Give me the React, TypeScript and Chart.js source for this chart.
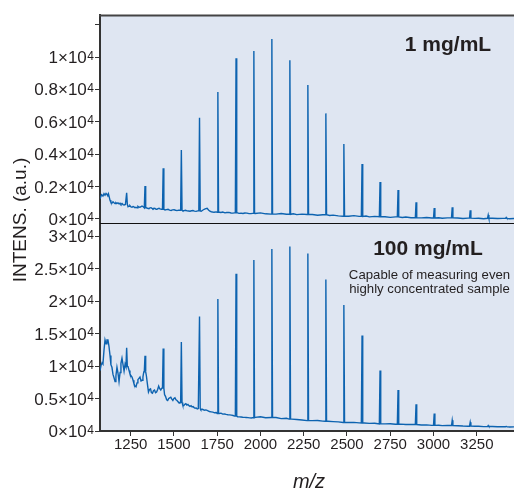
import React, { useEffect, useRef } from 'react';
import { Chart, registerables } from 'chart.js';

Chart.register(...registerables);

const FONT = '"Liberation Sans", Arial, Helvetica, sans-serif';
const TEXT = '#231f20';
const LINE = '#0d63b0';
const BG = '#dfe6f2';

// Peak positions (m/z) shared by both spectra
const peakMz = [1227, 1333, 1438, 1543, 1648, 1754, 1859, 1962, 2066, 2170, 2274, 2378, 2482, 2587, 2691, 2795, 2899, 3004, 3108, 3212, 3316, 3420];
// Peak top intensities
const peakTop1 = [1620, 2040, 3130, 4260, 6250, 7840, 9920, 10370, 11110, 9800, 8270, 6520, 4630, 3400, 2280, 1790, 1030, 680, 720, 540, 250, 100];
const peakTop2 = [12800, 11570, 12700, 13700, 17600, 20300, 24200, 26300, 28000, 28400, 27300, 23300, 19400, 14700, 9300, 6300, 4100, 2700, 1650, 1340, 850, 700];

// Baseline (1 mg/mL)
const baseMz1 = [1073, 1082, 1090, 1096, 1102, 1108, 1113, 1118, 1122, 1131, 1136, 1142, 1148, 1154, 1160, 1165, 1171, 1177, 1183, 1189, 1194, 1200, 1206, 1212, 1220,
  1235, 1241, 1246, 1252, 1258, 1264, 1269, 1275, 1281, 1287, 1292, 1298, 1304, 1310, 1316, 1324,
  1341, 1347, 1356, 1362, 1368, 1374, 1379, 1385, 1391, 1397, 1402, 1408, 1414, 1420, 1428,
  1449, 1457, 1466, 1475, 1484, 1492, 1501, 1510, 1518, 1527, 1535,
  1552, 1558, 1567, 1576, 1585, 1593, 1602, 1610, 1619, 1628, 1638,
  1658, 1666, 1675, 1684, 1692, 1700, 1708, 1716, 1724, 1732, 1744,
  1763, 1772, 1782, 1795, 1805, 1818, 1830, 1841, 1851,
  1868, 1876, 1888, 1899, 1910, 1922, 1934, 1945, 1955,
  1970, 2000, 2030, 2090, 2120, 2150, 2190, 2210, 2240, 2300, 2330, 2360, 2400, 2420, 2450, 2510, 2540, 2570, 2610, 2630, 2660, 2720, 2750, 2780, 2820, 2840, 2870, 2930, 2960, 2990, 3030, 3050, 3080, 3140, 3170, 3200, 3240, 3260, 3290, 3340, 3370, 3400, 3440, 3465];
const baseVal1 = [1250, 1500, 1420, 1560, 1470, 1580, 1520, 1430, 1550, 1150, 1020, 980, 1060, 1000, 950, 1010, 960, 1000, 930, 970, 900, 960, 890, 870, 900,
  760, 790, 820, 740, 720, 770, 760, 700, 720, 690, 780, 740, 720, 760, 800, 740,
  690, 660, 640, 690, 700, 650, 620, 660, 650, 600, 610, 640, 660, 620, 600,
  560, 580, 600, 550, 530, 560, 570, 540, 520, 550, 540,
  500, 520, 540, 500, 490, 480, 510, 520, 490, 470, 500,
  480, 540, 600, 640, 660, 560, 480, 450, 430, 420, 440,
  420, 400, 430, 380, 400, 410, 370, 360, 380,
  380, 350, 360, 340, 370, 360, 330, 330, 350,
  340, 380, 320, 300, 340, 290, 320, 270, 300, 280, 230, 260, 220, 240, 190, 170, 210, 160, 180, 130, 160, 140, 100, 130, 90, 120, 80, 70, 90, 60, 80, 50, 70, 60, 35, 55, 40, 50, 20, 45, 30, 40, 15, 35];

// Baseline (100 mg/mL)
const baseMz2 = [1073, 1079, 1085, 1090, 1096, 1102, 1108, 1113, 1119, 1125, 1131, 1136, 1142, 1148, 1154, 1160, 1165, 1171, 1177, 1183, 1189, 1194, 1200, 1206, 1212, 1218,
  1235, 1241, 1246, 1252, 1258, 1264, 1269, 1275, 1281, 1287, 1292, 1298, 1304, 1310, 1316, 1321, 1326,
  1341, 1347, 1353, 1359, 1365, 1370, 1376, 1382, 1388, 1394, 1400, 1406, 1412, 1418, 1424, 1430,
  1446, 1452, 1458, 1464, 1470, 1476, 1482, 1488, 1494, 1500, 1506, 1512, 1518, 1524, 1530, 1535,
  1551, 1557, 1563, 1569, 1575, 1581, 1587, 1593, 1599, 1605, 1611, 1617, 1623, 1629, 1635, 1641,
  1655, 1665, 1675, 1685, 1695, 1705, 1715, 1725, 1735, 1745,
  1762, 1772, 1782, 1792, 1802, 1812, 1822, 1832, 1842, 1851,
  1868, 1878, 1888, 1898, 1908, 1918, 1928, 1938, 1948, 1955,
  1970, 2000, 2030, 2090, 2120, 2150, 2180, 2210, 2240, 2300, 2330, 2360, 2390, 2420, 2450, 2510, 2540, 2570, 2600, 2630, 2660, 2720, 2750, 2780, 2810, 2840, 2870, 2930, 2960, 2990, 3030, 3050, 3080, 3140, 3170, 3200, 3240, 3260, 3290, 3340, 3370, 3400, 3440, 3465];
const baseVal2 = [9300, 10100, 10500, 10300, 12400, 14000, 13400, 14000, 14000, 13000, 11600, 10200, 9800, 8700, 8200, 7600, 8500, 9800, 8900, 7600, 9000, 10400, 11200, 10200, 9200, 10300,
  9900, 9300, 8800, 8500, 8300, 7800, 7300, 6900, 6800, 7400, 7900, 8100, 8300, 7700, 7800, 8300, 9100,
  8500, 7200, 6000, 6400, 6500, 5900, 5800, 6200, 6300, 5900, 6000, 6400, 6900, 6500, 6300, 6600,
  5600, 5300, 4800, 4700, 5000, 5100, 5200, 4900, 4700, 5000, 5100, 4800, 4700, 4500, 4300, 4400,
  4000, 3900, 4100, 4200, 4000, 4100, 3900, 3800, 3900, 3700, 3750, 3600, 3500, 3550, 3400, 3450,
  3300, 3350, 3200, 3250, 3150, 3000, 2950, 2900, 2800, 2850,
  2700, 2750, 2600, 2620, 2550, 2500, 2480, 2450, 2380, 2300,
  2200, 2180, 2150, 2120, 2100, 2080, 2050, 2020, 2000, 2050,
  2100, 2200, 2050, 2080, 1900, 1950, 1820, 1780, 1700, 1600, 1620, 1520, 1500, 1450, 1400, 1300, 1320, 1250, 1230, 1180, 1200, 1100, 1120, 1040, 1060, 990, 1000, 920, 940, 870, 880, 830, 850, 800, 760, 740, 720, 730, 680, 690, 650, 660, 620, 630, 600];

const xTicks = [1250, 1500, 1750, 2000, 2250, 2500, 2750, 3000, 3250];
const yTicks1 = [0, 2000, 4000, 6000, 8000, 10000, 12000];
const yLabels1 = ['0', '0.2', '0.4', '0.6', '0.8', '1', ''];
const yTicks2 = [0, 5000, 10000, 15000, 20000, 25000, 30000];
const yLabels2 = ['0', '0.5', '1', '1.5', '2', '2.5', '3'];

function buildSeries(bMz: number[], bVal: number[], pMz: number[], pTop: number[]) {
  const pts: { x: number; y: number }[] = [];
  bMz.forEach((m, i) => {
    if (!pMz.some((p) => Math.abs(p - m) <= 5)) pts.push({ x: m, y: bVal[i] });
  });
  pMz.forEach((p, i) => {
    let j = 0;
    let best = Infinity;
    bMz.forEach((m, k) => {
      const d = Math.abs(m - p);
      if (d < best) { best = d; j = k; }
    });
    const b = bVal[j];
    pts.push({ x: p - 4, y: b }, { x: p, y: pTop[i] }, { x: p + 4, y: b });
  });
  pts.sort((a, b) => a.x - b.x);
  return pts;
}

function drawYLabels(ctx: CanvasRenderingContext2D, scale: any, vals: number[], labels: string[]) {
  vals.forEach((v, i) => {
    if (!labels[i]) return;
    const y = scale.getPixelForValue(v);
    const right = 94;
    ctx.textAlign = 'right';
    ctx.textBaseline = 'alphabetic';
    ctx.font = `12px ${FONT}`;
    const supW = ctx.measureText('4').width;
    ctx.fillText('4', right, y + 2.5);
    ctx.font = `17px ${FONT}`;
    ctx.fillText(labels[i] + '×10', right - supW - 0.5, y + 6);
  });
}

const decor = {
  id: 'decor',
  beforeDraw(chart: any) {
    const { ctx, chartArea: a } = chart;
    ctx.save();
    ctx.fillStyle = BG;
    ctx.fillRect(a.left, a.top, a.right - a.left, a.bottom - a.top);
    ctx.restore();
  },
  afterDraw(chart: any) {
    const { ctx, chartArea: a } = chart;
    const y1 = chart.scales.y1;
    const y2 = chart.scales.y2;
    ctx.save();
    // top frame line
    ctx.strokeStyle = '#444';
    ctx.lineWidth = 2;
    ctx.beginPath();
    ctx.moveTo(a.left - 1, a.top + 0.5);
    ctx.lineTo(a.right, a.top + 0.5);
    ctx.stroke();
    // divider between panels
    ctx.strokeStyle = '#111';
    ctx.lineWidth = 1;
    ctx.beginPath();
    ctx.moveTo(a.left, y1.bottom + 0.5);
    ctx.lineTo(a.right, y1.bottom + 0.5);
    ctx.stroke();

    ctx.fillStyle = TEXT;
    drawYLabels(ctx, y1, yTicks1, yLabels1);
    drawYLabels(ctx, y2, yTicks2, yLabels2);

    // y title
    ctx.save();
    ctx.translate(21, 220);
    ctx.rotate(-Math.PI / 2);
    ctx.font = `19px ${FONT}`;
    ctx.textAlign = 'center';
    ctx.textBaseline = 'middle';
    ctx.fillText('INTENS. (a.u.)', 0, 0);
    ctx.restore();

    // x title
    ctx.font = `italic 20px ${FONT}`;
    ctx.textAlign = 'center';
    ctx.textBaseline = 'alphabetic';
    ctx.fillText('m/z', (a.left + a.right) / 2 + 2, 488);

    // panel labels
    ctx.font = `bold 21px ${FONT}`;
    ctx.fillText('1 mg/mL', 448, 51);
    ctx.fillText('100 mg/mL', 428, 255);
    ctx.font = `13.2px ${FONT}`;
    ctx.fillText('Capable of measuring even', 429.5, 278.5);
    ctx.fillText('highly concentrated sample', 429.5, 292.5);
    ctx.restore();
  },
};

const tickGrid = { display: true, drawOnChartArea: false, drawTicks: true, tickLength: 5, color: '#333', lineWidth: 1 };
const axisBorder = { display: true, color: '#333', width: 2 };

export default function App() {
  const ref = useRef<HTMLCanvasElement>(null);
  useEffect(() => {
    if (!ref.current) return;
    const chart = new Chart(ref.current, {
      type: 'line',
      data: {
        datasets: [
          {
            label: '1 mg/mL',
            data: buildSeries(baseMz1, baseVal1, peakMz, peakTop1),
            yAxisID: 'y1',
            borderColor: LINE,
            borderWidth: 1.4,
            pointRadius: 0,
            tension: 0,
          },
          {
            label: '100 mg/mL',
            data: buildSeries(baseMz2, baseVal2, peakMz, peakTop2),
            yAxisID: 'y2',
            borderColor: LINE,
            borderWidth: 1.4,
            pointRadius: 0,
            tension: 0,
          },
        ],
      },
      options: {
        responsive: false,
        animation: false,
        layout: { padding: { top: 15, right: 0, left: 0, bottom: 0 } },
        plugins: { legend: { display: false }, tooltip: { enabled: false } },
        scales: {
          x: {
            type: 'linear',
            position: 'bottom',
            min: 1073,
            max: 3465,
            afterBuildTicks: (s: any) => { s.ticks = xTicks.map((v) => ({ value: v })); },
            afterFit: (s: any) => { s.height = 62; },
            grid: tickGrid,
            border: axisBorder,
            ticks: {
              color: TEXT,
              font: { family: FONT, size: 15 },
              padding: 0,
              maxRotation: 0,
              autoSkip: false,
              callback: (v: any) => String(v),
            },
          },
          y1: {
            type: 'linear',
            position: 'left',
            stack: 'panels',
            stackWeight: 1,
            weight: 2,
            min: -247,
            max: 12593,
            afterBuildTicks: (s: any) => { s.ticks = yTicks1.map((v) => ({ value: v })); },
            afterFit: (s: any) => { s.width = 100; },
            grid: tickGrid,
            border: axisBorder,
            ticks: { display: false },
          },
          y2: {
            type: 'linear',
            position: 'left',
            stack: 'panels',
            stackWeight: 1,
            weight: 1,
            min: 0,
            max: 32000,
            afterBuildTicks: (s: any) => { s.ticks = yTicks2.map((v) => ({ value: v })); },
            afterFit: (s: any) => { s.width = 100; },
            grid: tickGrid,
            border: axisBorder,
            ticks: { display: false },
          },
        },
      } as any,
      plugins: [decor],
    });
    return () => chart.destroy();
  }, []);
  return (
    <div style={{ position: 'fixed', left: 0, top: 0, width: 514, height: 493, background: '#fff' }}>
      <canvas ref={ref} width={514} height={493} />
    </div>
  );
}
